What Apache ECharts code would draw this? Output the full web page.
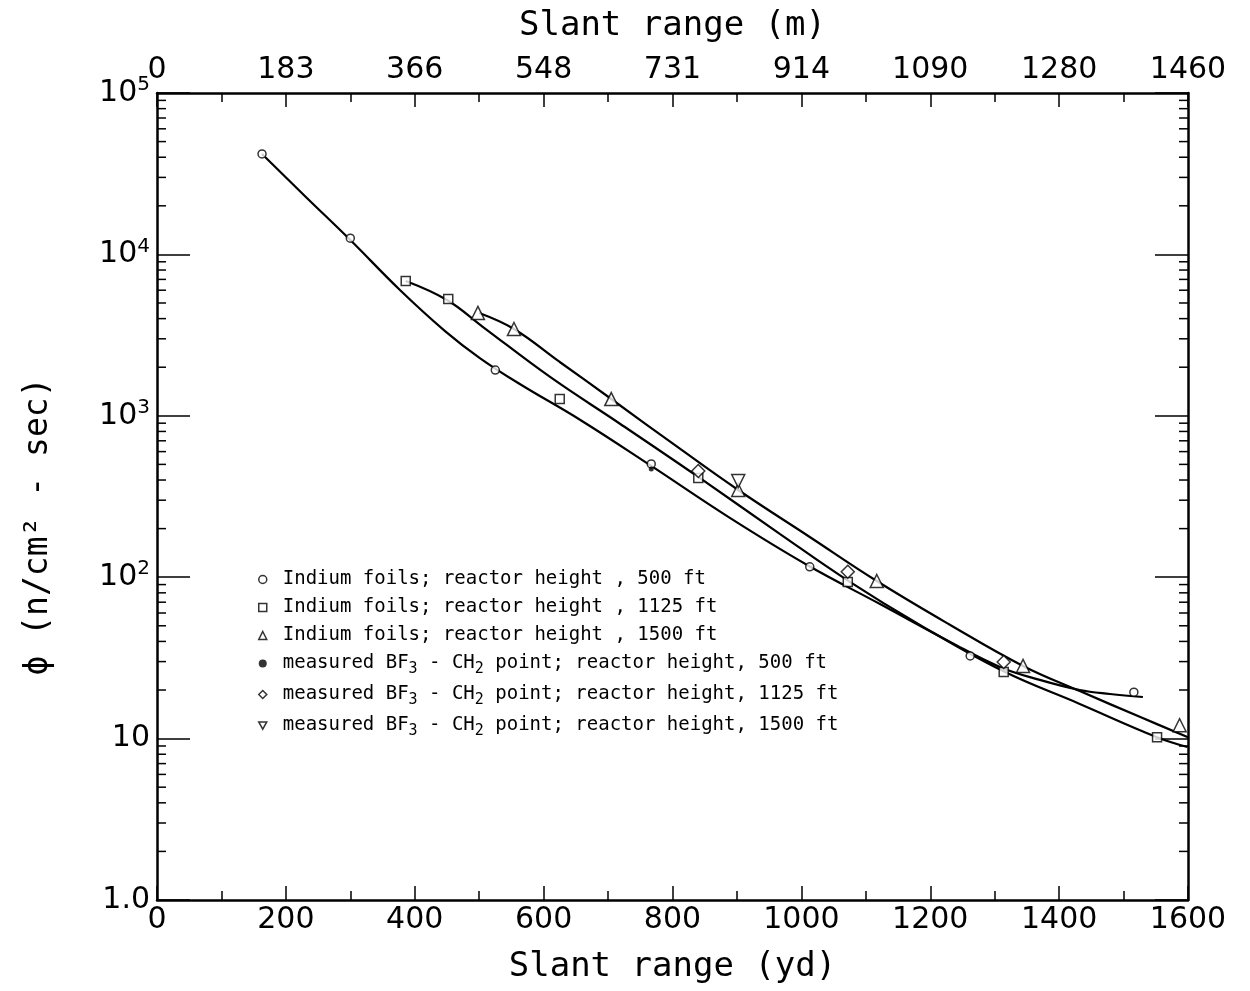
<!DOCTYPE html>
<html>
<head>
<meta charset="utf-8">
<script src="https://cdn.jsdelivr.net/npm/echarts@6/dist/echarts.min.js"></script>
<style>
html,body{margin:0;padding:0;background:#fff;}
#chart{width:1250px;height:991px;}
</style>
</head>
<body>
<div id="chart"></div>
<script>
// ---- Data (slant range in yd, flux in n/cm^2-sec) ----
const ydIn500 = [163, 300, 525, 767, 1013, 1262, 1516];
const phiIn500 = [41900, 12600, 1920, 503, 116, 32.5, 19.4];
const ydIn1125 = [386, 452, 625, 840, 1072, 1314, 1552];
const phiIn1125 = [6840, 5290, 1270, 412, 93.4, 25.9, 10.2];
const ydIn1500 = [498, 554, 705, 902, 1117, 1344, 1587];
const phiIn1500 = [4340, 3450, 1270, 347, 94.7, 28.2, 12.1];
const ydBF500 = [767];
const phiBF500 = [468];
const ydBF1125 = [840, 1072, 1314];
const phiBF1125 = [455, 108, 29.8];
const ydBF1500 = [902];
const phiBF1500 = [394];

// fitted curves
const ydCurve500 = [163, 231, 300, 377, 447, 501, 563, 657, 767, 889, 1009, 1122, 1231, 1308, 1370, 1432, 1479, 1530];
const phiCurve500 = [41900, 22700, 12280, 6020, 3350, 2280, 1574, 942, 489, 233, 119, 68.2, 39.7, 27.8, 23.1, 20.0, 18.9, 18.1];
const ydCurve1125 = [386, 450, 506, 610, 719, 840, 967, 1071, 1184, 1313, 1432, 1552, 1599];
const phiCurve1125 = [6840, 5215, 3548, 1740, 890, 418, 185, 96, 50.6, 26.2, 16.4, 10.2, 8.87];
const ydCurve1500 = [500, 554, 625, 705, 812, 902, 1013, 1117, 1231, 1344, 1432, 1526, 1600];
const phiCurve1500 = [4335, 3450, 2155, 1271, 623, 347, 177.5, 94.7, 50.6, 28.2, 19.7, 13.6, 10.2];

// tick labels
const topTickLabels = ['0', '183', '366', '548', '731', '914', '1090', '1280', '1460'];
const yTickLabels = ['1.0', '10', '10{sup|2}', '10{sup|3}', '10{sup|4}', '10{sup|5}'];
const logMinorMultipliers = [2, 3, 4, 5, 6, 7, 8, 9];

const seriesNames = [
  'Indium foils; reactor height , 500 ft',
  'Indium foils; reactor height , 1125 ft',
  'Indium foils; reactor height , 1500 ft',
  'measured BF3 - CH2 point; reactor height, 500 ft',
  'measured BF3 - CH2 point; reactor height, 1125 ft',
  'measured BF3 - CH2 point; reactor height, 1500 ft'
];

function pairs(xs, ys) { return xs.map((x, i) => [x, ys[i]]); }

const minorVals = [];
for (let k = 0; k < 5; k++) for (const m of logMinorMultipliers) minorVals.push([0, m * Math.pow(10, k)]);

const FONT = 'DejaVu Sans';
const MONO = 'DejaVu Sans Mono';
const INV_TRI = 'path://M0,0L10,0L5,9Z';
const hollow = { color: '#fff', borderColor: '#000', borderWidth: 1.5 };

const chart = echarts.init(document.getElementById('chart'), null, { renderer: 'canvas' });

function curve(xs, ys) {
  return {
    type: 'line', xAxisIndex: 0, yAxisIndex: 0, data: pairs(xs, ys),
    showSymbol: false, symbol: 'none', smooth: 0.4, silent: true,
    lineStyle: { color: '#000', width: 2.2 }, z: 2, legendHoverLink: false
  };
}

const axisLineStyle = { show: true, onZero: false, lineStyle: { color: '#000', width: 2.5 } };

const option = {
  backgroundColor: '#fff',
  animation: false,
  textStyle: { fontFamily: FONT, color: '#000' },
  grid: { left: 157, right: 62, top: 93, bottom: 91, containLabel: false },
  legend: {
    orient: 'vertical', left: 253, top: 564, itemGap: 7,
    itemWidth: 8, itemHeight: 8, selectedMode: false,
    textStyle: {
      fontFamily: MONO, fontSize: 19, color: '#000', lineHeight: 21, padding: [0, 0, 0, 11],
      rich: {
        sub: { fontFamily: MONO, fontSize: 15, padding: [12, 0, 0, 0], color: '#000' }
      }
    },
    formatter: n => n.replace('BF3', 'BF{sub|3}').replace('CH2', 'CH{sub|2}'),
    data: [
      { name: seriesNames[0], icon: 'circle', itemStyle: hollow },
      { name: seriesNames[1], icon: 'rect', itemStyle: hollow },
      { name: seriesNames[2], icon: 'triangle', itemStyle: hollow },
      { name: seriesNames[3], icon: 'circle', itemStyle: { color: '#000', borderWidth: 0 } },
      { name: seriesNames[4], icon: 'diamond', itemStyle: hollow },
      { name: seriesNames[5], icon: INV_TRI, itemStyle: hollow }
    ]
  },
  xAxis: [
    {
      type: 'value', position: 'bottom', min: 0, max: 1600, interval: 200,
      name: 'Slant range (yd)', nameLocation: 'middle', nameGap: 50,
      nameTextStyle: { fontFamily: MONO, fontSize: 34, color: '#000' },
      axisLine: axisLineStyle,
      axisTick: { show: true, inside: true, length: 14, lineStyle: { color: '#000', width: 1.5 } },
      minorTick: { show: true, splitNumber: 2, length: 9, lineStyle: { color: '#000', width: 1.5 } },
      axisLabel: { fontFamily: FONT, fontSize: 30, color: '#000', margin: 5, formatter: v => String(v) },
      splitLine: { show: false }
    },
    {
      type: 'value', position: 'top', min: 0, max: 1600, interval: 200,
      name: 'Slant range (m)', nameLocation: 'middle', nameGap: 50,
      nameTextStyle: { fontFamily: MONO, fontSize: 34, color: '#000' },
      axisLine: axisLineStyle,
      axisTick: { show: true, inside: true, length: 14, lineStyle: { color: '#000', width: 1.5 } },
      minorTick: { show: true, splitNumber: 2, length: 9, lineStyle: { color: '#000', width: 1.5 } },
      axisLabel: { fontFamily: FONT, fontSize: 30, color: '#000', margin: 8,
        formatter: v => topTickLabels[Math.round(v / 200)] },
      splitLine: { show: false }
    }
  ],
  yAxis: [
    {
      type: 'log', logBase: 10, min: 1, max: 100000, position: 'left',
      name: 'ϕ (n/cm² - sec)', nameLocation: 'middle', nameGap: 102,
      nameTextStyle: { fontFamily: MONO, fontSize: 33, color: '#000', padding: [0, 60, 0, 0] },
      axisLine: axisLineStyle,
      axisTick: { show: true, inside: true, length: 33, lineStyle: { color: '#000', width: 1.5 } },
      axisLabel: {
        fontFamily: FONT, fontSize: 30, color: '#000', margin: 7,
        formatter: v => yTickLabels[Math.round(Math.log10(v))],
        rich: { sup: { fontFamily: FONT, fontSize: 20, color: '#000', padding: [0, 0, 16, 0] } }
      },
      splitLine: { show: false }
    },
    {
      type: 'log', logBase: 10, min: 1, max: 100000, position: 'right',
      axisLine: axisLineStyle,
      axisTick: { show: true, inside: true, length: 33, lineStyle: { color: '#000', width: 1.5 } },
      axisLabel: { show: false },
      splitLine: { show: false }
    }
  ],
  series: [
    {
      type: 'custom', xAxisIndex: 0, yAxisIndex: 0, silent: true, clip: false, z: 1,
      data: minorVals,
      renderItem: (params, api) => {
        const v = api.value(1);
        const pL = api.coord([0, v]);
        const pR = api.coord([1600, v]);
        return {
          type: 'group', children: [
            { type: 'line', shape: { x1: pL[0], y1: pL[1], x2: pL[0] + 9, y2: pL[1] }, style: { stroke: '#000', lineWidth: 1.5 } },
            { type: 'line', shape: { x1: pR[0], y1: pR[1], x2: pR[0] - 9, y2: pR[1] }, style: { stroke: '#000', lineWidth: 1.5 } }
          ]
        };
      }
    },
    curve(ydCurve500, phiCurve500),
    curve(ydCurve1125, phiCurve1125),
    curve(ydCurve1500, phiCurve1500),
    { name: seriesNames[0], type: 'scatter', data: pairs(ydIn500, phiIn500), symbol: 'circle', symbolSize: 8, itemStyle: hollow, z: 5 },
    { name: seriesNames[1], type: 'scatter', data: pairs(ydIn1125, phiIn1125), symbol: 'rect', symbolSize: 9, itemStyle: hollow, z: 5 },
    { name: seriesNames[2], type: 'scatter', data: pairs(ydIn1500, phiIn1500), symbol: 'triangle', symbolSize: 13, itemStyle: hollow, z: 5 },
    { name: seriesNames[3], type: 'scatter', data: pairs(ydBF500, phiBF500), symbol: 'circle', symbolSize: 5, itemStyle: { color: '#000' }, z: 6 },
    { name: seriesNames[4], type: 'scatter', data: pairs(ydBF1125, phiBF1125), symbol: 'diamond', symbolSize: 13, itemStyle: hollow, z: 5 },
    { name: seriesNames[5], type: 'scatter', data: pairs(ydBF1500, phiBF1500), symbol: 'triangle', symbolRotate: 180, symbolSize: 13, itemStyle: hollow, z: 5 }
  ]
};
chart.setOption(option);
</script>
</body>
</html>
